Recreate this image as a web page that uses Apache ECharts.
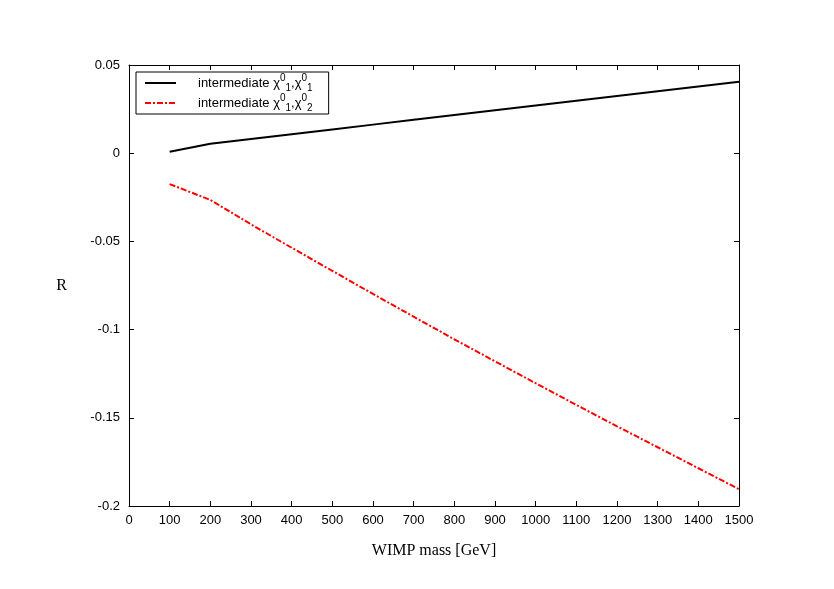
<!DOCTYPE html>
<html>
<head>
<meta charset="utf-8">
<script src="https://cdn.jsdelivr.net/npm/echarts@6/dist/echarts.min.js"></script>
<style>
  html, body { margin: 0; padding: 0; background: #fff; }
  #chart { width: 834px; height: 589px; }
</style>
</head>
<body>
<div id="chart"></div>
<script>
// WIMP mass [GeV]
const masses = [100, 200, 300, 400, 500, 600, 700, 800, 900, 1000, 1100, 1200, 1300, 1400, 1500];
// intermediate chi01,chi01
const r11 = [0.0008, 0.0054, 0.0081, 0.0108, 0.0135, 0.0162, 0.0189, 0.0216, 0.0243, 0.0270, 0.0297, 0.0324, 0.0351, 0.0378, 0.0405];
// intermediate chi01,chi02
const r12 = [-0.0175, -0.0265, -0.0403, -0.0536, -0.0667, -0.0798, -0.0927, -0.1055, -0.1180, -0.1304, -0.1427, -0.1548, -0.1667, -0.1786, -0.1905];

const seriesNames = ['n11', 'n12'];
const legendText = {
  n11: '{t|intermediate χ}{sup|0}{sub|1}{t|,χ}{sup|0}{sub|1}',
  n12: '{t|intermediate χ}{sup|0}{sub|1}{t|,χ}{sup|0}{sub|2}'
};

const chart = echarts.init(document.getElementById('chart'));

const axisBase = {
  axisLine: { show: true, onZero: false, lineStyle: { color: '#000', width: 1 } },
  axisTick: { show: true, inside: true, length: 5, lineStyle: { color: '#000' } },
  splitLine: { show: false }
};

chart.setOption({
  animation: false,
  backgroundColor: '#fff',
  grid: { left: 129, right: 95, top: 65, bottom: 83 },
  legend: {
    left: 136,
    top: 72,
    orient: 'vertical',
    data: seriesNames,
    itemWidth: 31,
    itemHeight: 10,
    itemGap: 0,
    padding: [1, 16, 1, 8],
    borderColor: '#000',
    borderWidth: 1,
    borderRadius: 0,
    itemStyle: { opacity: 0, color: 'rgba(0,0,0,0)', borderWidth: 0 },
    formatter: function (name) { return legendText[name]; },
    textStyle: {
      padding: [0, 0, 0, 17],
      rich: {
        t: { fontFamily: 'Liberation Sans', fontSize: 13, color: '#000', lineHeight: 20 },
        sup: { fontFamily: 'Liberation Sans', fontSize: 10, color: '#000', verticalAlign: 'top', lineHeight: 20 },
        sub: { fontFamily: 'Liberation Sans', fontSize: 10, color: '#000', verticalAlign: 'bottom', lineHeight: 20 }
      }
    }
  },
  xAxis: [
    Object.assign({}, axisBase, {
      type: 'value', min: 0, max: 1500, interval: 100, position: 'bottom',
      name: 'WIMP mass [GeV]', nameLocation: 'middle', nameGap: 37,
      nameTextStyle: { fontFamily: 'Liberation Serif', fontSize: 16, color: '#000' },
      axisLabel: { fontFamily: 'Liberation Sans', fontSize: 13, color: '#000', margin: 8,
        formatter: function (v) { return String(v); } }
    }),
    Object.assign({}, axisBase, {
      type: 'value', min: 0, max: 1500, interval: 100, position: 'top',
      axisLabel: { show: false }
    })
  ],
  yAxis: [
    Object.assign({}, axisBase, {
      type: 'value', min: -0.2, max: 0.05, interval: 0.05, position: 'left',
      name: 'R', nameLocation: 'middle', nameGap: 62, nameRotate: 0,
      nameTextStyle: { fontFamily: 'Liberation Serif', fontSize: 16, color: '#000' },
      axisLabel: { fontFamily: 'Liberation Sans', fontSize: 13, color: '#000', margin: 9 }
    }),
    Object.assign({}, axisBase, {
      type: 'value', min: -0.2, max: 0.05, interval: 0.05, position: 'right',
      axisLabel: { show: false }
    })
  ],
  series: [
    {
      name: 'n11', type: 'line', symbol: 'none',
      data: masses.map((m, i) => [m, r11[i]]),
      lineStyle: { color: '#000', width: 2 },
      itemStyle: { color: '#000' }
    },
    {
      name: 'n12', type: 'line', symbol: 'none',
      data: masses.map((m, i) => [m, r12[i]]),
      lineStyle: { color: '#ff0000', width: 2, type: [6, 2, 2, 2] },
      itemStyle: { color: '#ff0000' }
    }
  ]
});
</script>
</body>
</html>
